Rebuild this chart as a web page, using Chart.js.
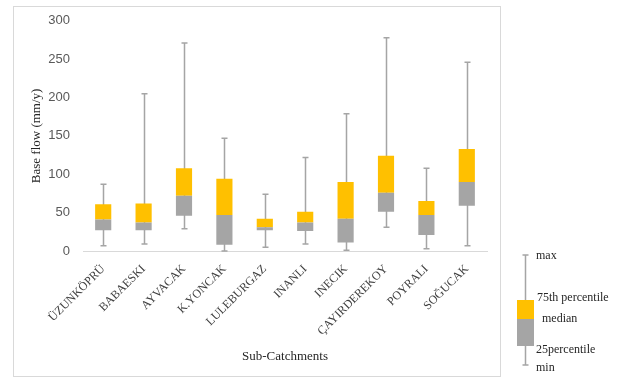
<!DOCTYPE html>
<html>
<head>
<meta charset="utf-8">
<script src="https://cdn.jsdelivr.net/npm/chart.js@4.4.1/dist/chart.umd.min.js"></script>
<style>
  html, body { margin: 0; padding: 0; background: #fff; }
  #wrap { position: relative; width: 630px; height: 378px; }
</style>
</head>
<body>
<div id="wrap"><canvas id="chart" width="630" height="378"></canvas></div>
<script>
const categories = ['ÜZUNKÖPRÜ', 'BABAESKI', 'AYVACAK', 'K.YONCAK', 'LULEBURGAZ', 'INANLI', 'INECIK', 'ÇAYIRDEREKOY', 'POYRALI', 'SOĞUCAK']
const mins = [7, 9, 29, 0, 5, 9, 1, 31, 3, 7]
const q1s = [27, 27, 46, 8, 27, 26, 11, 51, 21, 59]
const medians = [41, 37, 72, 47, 31, 37, 42, 76, 47, 90]
const q3s = [61, 62, 108, 94, 42, 51, 90, 124, 65, 133]
const maxs = [87, 205, 271, 147, 74, 122, 179, 278, 108, 246]
const yTicks = [0, 50, 100, 150, 200, 250, 300]

const YELLOW = '#FFC000'
const GREY = '#A5A5A5'
const serif = "'Liberation Serif', 'DejaVu Serif', serif"

const lowerBox = q1s.map((v, i) => [v, medians[i]])
const upperBox = medians.map((v, i) => [v, q3s[i]])

// whiskers + frame + legend
const boxExtras = {
    id: 'boxExtras',
    beforeDraw(chart) {
        const c = chart.ctx
        c.save()
        c.strokeStyle = '#d9d9d9'
        c.lineWidth = 1
        c.strokeRect(13.5, 6.5, 487, 370)
        c.restore()
    },
    beforeDatasetsDraw(chart) {
        const c = chart.ctx
        const x = chart.scales.x, y = chart.scales.y
        c.save()
        c.strokeStyle = GREY
        c.lineWidth = 1.5
        categories.forEach((cat, i) => {
            const px = Math.round(x.getPixelForValue(i)) + 0.5
            const top = y.getPixelForValue(maxs[i])
            const bot = y.getPixelForValue(mins[i])
            c.beginPath()
            c.moveTo(px, top); c.lineTo(px, bot)
            c.moveTo(px - 3, top); c.lineTo(px + 3, top)
            c.moveTo(px - 3, bot); c.lineTo(px + 3, bot)
            c.stroke()
        })
        c.restore()
    },
    afterDraw(chart) {
        const c = chart.ctx
        c.save()
        // legend glyph
        c.strokeStyle = GREY
        c.lineWidth = 1.5
        c.beginPath()
        c.moveTo(525.5, 255); c.lineTo(525.5, 365)
        c.moveTo(522.5, 255); c.lineTo(528.5, 255)
        c.moveTo(522.5, 365); c.lineTo(528.5, 365)
        c.stroke()
        c.fillStyle = YELLOW
        c.fillRect(517, 300, 17, 19)
        c.fillStyle = GREY
        c.fillRect(517, 319, 17, 27)
        c.fillStyle = '#262626'
        c.font = '12px ' + serif
        c.textBaseline = 'middle'
        c.fillText('max', 536, 256)
        c.fillText('75th percentile', 537, 298)
        c.fillText('median', 542, 319)
        c.fillText('25percentile', 536, 350)
        c.fillText('min', 536, 368)
        c.restore()
    }
}

new Chart(document.querySelector('#chart'), {
    type: 'bar',
    data: {
        labels: categories,
        datasets: [{
            label: 'lower',
            data: lowerBox,
            backgroundColor: GREY,
            borderWidth: 0,
            barPercentage: 0.4,
            categoryPercentage: 1,
            grouped: false
        }, {
            label: 'upper',
            data: upperBox,
            backgroundColor: YELLOW,
            borderWidth: 0,
            barPercentage: 0.4,
            categoryPercentage: 1,
            grouped: false
        }]
    },
    options: {
        responsive: false,
        animation: false,
        layout: { padding: { left: 29, right: 143, top: 18, bottom: 14 } },
        plugins: {
            legend: { display: false },
            tooltip: { enabled: false }
        },
        scales: {
            x: {
                grid: { display: false },
                border: { display: true, color: '#d9d9d9', width: 1 },
                ticks: {
                    color: '#404040',
                    font: { family: serif, size: 12 },
                    minRotation: 45,
                    maxRotation: 45,
                    padding: 3
                },
                title: {
                    display: true,
                    text: 'Sub-Catchments',
                    color: '#262626',
                    font: { family: serif, size: 13 },
                    padding: { top: 4, bottom: 0 }
                },
                afterFit(axis) {
                    axis.paddingLeft = 0
                    axis.paddingRight = 0
                    axis.height = 113
                }
            },
            y: {
                min: 0,
                max: 300,
                afterBuildTicks(axis) {
                    axis.ticks = yTicks.map(v => ({ value: v }))
                },
                grid: { display: false, drawTicks: false },
                border: { display: false },
                ticks: {
                    color: '#595959',
                    font: { family: "'Liberation Sans', sans-serif", size: 13 },
                    padding: 13
                },
                title: {
                    display: true,
                    text: 'Base flow (mm/y)',
                    color: '#262626',
                    font: { family: serif, size: 13 },
                    padding: { top: 0, bottom: 5 }
                },
                afterFit(axis) {
                    axis.width = 54
                }
            }
        }
    },
    plugins: [boxExtras]
})
</script>
</body>
</html>
